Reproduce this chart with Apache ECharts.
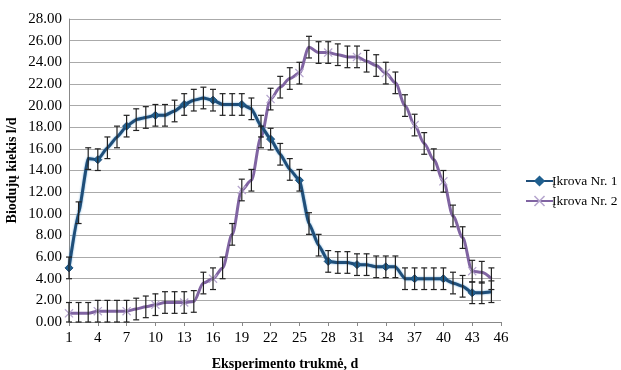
<!DOCTYPE html>
<html>
<head>
<meta charset="utf-8">
<script src="https://cdn.jsdelivr.net/npm/echarts@6/dist/echarts.min.js"></script>
<style>html,body{margin:0;padding:0;background:#fff}#c{width:621px;height:370px}</style>
</head>
<body>
<div id="c"></div>
<script>
const categories = ['1','2','3','4','5','6','7','8','9','10','11','12','13','14','15','16','17','18','19','20','21','22','23','24','25','26','27','28','29','30','31','32','33','34','35','36','37','38','39','40','41','42','43','44','45','46'];
const series1Name = 'Įkrova Nr. 1';
const series2Name = 'Įkrova Nr. 2';
const series1 = [5.0,10.1,15.1,15.0,16.1,17.1,18.1,18.7,18.9,19.1,19.1,19.5,20.1,20.5,20.7,20.5,20.1,20.1,20.1,19.7,18.1,16.9,15.5,14.1,13.1,9.1,7.1,5.6,5.5,5.5,5.3,5.3,5.1,5.1,5.1,4.0,4.0,4.0,4.0,4.0,3.6,3.3,2.7,2.7,2.8];
const series2 = [0.8,0.8,0.8,1.0,1.0,1.0,1.0,1.2,1.4,1.6,1.8,1.8,1.8,1.9,3.6,4.0,5.0,8.1,12.2,13.1,17.1,20.6,21.7,22.5,23.0,25.4,24.9,24.9,24.7,24.5,24.5,24.1,23.7,23.0,22.1,20.0,18.2,16.5,15.0,13.0,9.8,7.8,4.7,4.6,4.0];
const err1 = 1.0;
const err2 = 1.0;
const yTicks = {min:0, max:28, interval:2};

const serif = 'Liberation Serif';
function errData(vals, e){
  return vals.map((v,i)=>[i, Math.max(0, v-e), v+e]);
}
function renderErr(params, api){
  const x = api.value(0);
  const lo = api.coord([x, api.value(1)]);
  const hi = api.coord([x, api.value(2)]);
  const w = 3;
  const st = {stroke:'#222', lineWidth:1.2};
  return {type:'group', children:[
    {type:'line', shape:{x1:lo[0],y1:lo[1],x2:hi[0],y2:hi[1]}, style:st},
    {type:'line', shape:{x1:lo[0]-w,y1:lo[1],x2:lo[0]+w,y2:lo[1]}, style:st},
    {type:'line', shape:{x1:hi[0]-w,y1:hi[1],x2:hi[0]+w,y2:hi[1]}, style:st}
  ]};
}
const xSym = 'path://M0,1L1,0L5,4L9,0L10,1L6,5L10,9L9,10L5,6L1,10L0,9L4,5Z';

const chart = echarts.init(document.getElementById('c'));
chart.setOption({
  animation:false,
  backgroundColor:'#fff',
  grid:{left:69, right:120, top:19, bottom:48, outerBoundsMode:'none', containLabel:false},
  legend:{
    data:[series1Name, series2Name],
    orient:'vertical', left:520, top:169, itemGap:6, itemWidth:27, itemHeight:14,
    textStyle:{fontFamily:serif, fontSize:13.5, color:'#000', padding:[0,0,0,-6], overflow:'none'}
  },
  xAxis:{
    type:'category', data:categories, boundaryGap:false,
    name:'Eksperimento trukmė, d', nameLocation:'middle', nameGap:35,
    nameTextStyle:{fontFamily:serif, fontSize:14, fontWeight:'bold', color:'#000'},
    axisLine:{lineStyle:{color:'#888', width:1}},
    axisTick:{show:true, interval:2, length:4, lineStyle:{color:'#888'}},
    axisLabel:{interval:2, fontFamily:serif, fontSize:15, color:'#000', margin:9},
    splitLine:{show:false}
  },
  yAxis:{
    type:'value', min:yTicks.min, max:yTicks.max, interval:yTicks.interval,
    name:'Biodujų kiekis l/d', nameLocation:'middle', nameGap:50, nameMoveOverlap:false,
    nameTextStyle:{fontFamily:serif, fontSize:14, fontWeight:'bold', color:'#000'},
    axisLine:{show:true, lineStyle:{color:'#888'}},
    axisTick:{show:false},
    axisLabel:{fontFamily:serif, fontSize:15, color:'#000', margin:7, formatter:v=>v.toFixed(2)},
    splitLine:{lineStyle:{color:'#aaa', width:1}}
  },
  series:[
    {name:series1Name, type:'line', data:series1, smooth:0.15, smoothMonotone:'x',
     lineStyle:{color:'#1F4E79', width:3, shadowColor:'rgba(60,140,200,0.8)', shadowBlur:2},
     itemStyle:{color:'#1F5F8F', borderColor:'#1F4E79'},
     symbol:'diamond', symbolSize:8, z:3},
    {name:series2Name, type:'line', data:series2, smooth:0.3, smoothMonotone:'x',
     lineStyle:{color:'#8064A2', width:3},
     itemStyle:{color:'#B6A6CE'},
     symbol:xSym, symbolSize:9, z:2},
    {name:'err1', type:'custom', data:errData(series1, err1), renderItem:renderErr, z:4, silent:true},
    {name:'err2', type:'custom', data:errData(series2, err2), renderItem:renderErr, z:4, silent:true}
  ]
});
</script>
</body>
</html>
